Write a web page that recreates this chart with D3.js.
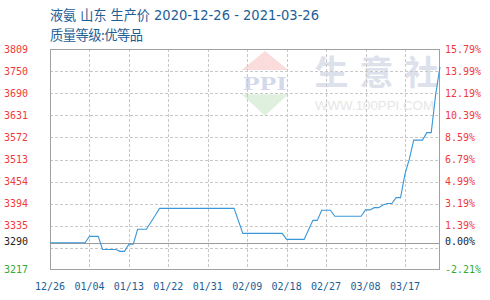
<!DOCTYPE html>
<html><head><meta charset="utf-8">
<script src="https://cdn.jsdelivr.net/npm/d3@7"></script>
<style>body{margin:0;background:#fff}svg{display:block}</style>
</head><body>
<svg id="c" width="490" height="300"></svg>
<script>
// ---- data ----
const dates = ["2020-12-26","2021-01-03","2021-01-04","2021-01-06","2021-01-07","2021-01-10","2021-01-11","2021-01-12","2021-01-13","2021-01-14","2021-01-15","2021-01-17","2021-01-18","2021-01-19","2021-01-20","2021-02-06","2021-02-07","2021-02-08","2021-02-17","2021-02-18","2021-02-22","2021-02-23","2021-02-24","2021-02-25","2021-02-26","2021-02-28","2021-03-01","2021-03-07","2021-03-08","2021-03-09","2021-03-10","2021-03-11","2021-03-12","2021-03-13","2021-03-14","2021-03-15","2021-03-16","2021-03-17","2021-03-18","2021-03-19","2021-03-21","2021-03-22","2021-03-23","2021-03-24","2021-03-25"];
const prices = [3290,3290,3307,3307,3272,3272,3267,3267,3286,3286,3326,3326,3345,3363,3382,3382,3349,3315,3315,3299,3299,3325,3350,3350,3377,3377,3361,3361,3378,3378,3384,3384,3391,3395,3395,3411,3411,3474,3514,3565,3565,3585,3585,3686,3761];
const basePrice = 3290;
const yMin = 3217, yMax = 3809;
const gridValues = [3276.2,3335.4,3394.6,3453.8,3513.0,3572.2,3631.4,3690.6,3749.8,3809];
const leftLabels = ["","3335","3394","3454","3513","3572","3631","3690","3750","3809"];
const rightLabels = ["","1.39%","3.19%","4.99%","6.79%","8.59%","10.39%","12.19%","13.99%","15.79%"];
const baseLabels = ["3290","0.00%"];
const minLabels = ["3217","-2.21%"];
const xTickDates = ["2020-12-26","2021-01-04","2021-01-13","2021-01-22","2021-01-31","2021-02-09","2021-02-18","2021-02-27","2021-03-08","2021-03-17"];
const xTickLabels = ["12/26","01/04","01/13","01/22","01/31","02/09","02/18","02/27","03/08","03/17"];
const titleLine1 = "液氨 山东 生产价 2020-12-26 - 2021-03-26";
const titleLine2 = "质量等级:优等品";
const wmChars = ["生","意","社"];

// ---- layout ----
const L = 50, R = 440, T = 49, B = 270;
const parse = d3.timeParse("%Y-%m-%d");
const svg = d3.select("#c");
const x = d3.scaleTime().domain([parse("2020-12-26"), parse("2021-03-25")]).range([L, R]);
const y = d3.scaleLinear().domain([yMin, yMax]).range([B, T]);
const mono = "'DejaVu Sans Mono', monospace";
const red = "#f03a3a", green = "#33aa33", blue = "#1d5e96";

// titles
svg.append("text").attr("x", 50).attr("y", 20).attr("fill", blue)
  .attr("font-family", "'DejaVu Sans','Noto Sans CJK SC',sans-serif").attr("font-size", 14)
  .attr("textLength", 269).attr("lengthAdjust", "spacingAndGlyphs").text(titleLine1);
svg.append("text").attr("x", 50).attr("y", 39.5).attr("fill", blue)
  .attr("font-family", "'Noto Sans CJK SC',sans-serif").attr("font-size", 13.3)
  .attr("textLength", 93).text(titleLine2);

// watermark
const wm = svg.append("g");
wm.append("path").attr("d", "M265,51L288.3,70L241.7,70Z").attr("fill", "#fadcdc");
wm.append("path").attr("d", "M241.7,94.3L288.3,94.3L265,115.7Z").attr("fill", "#dff0df");
wm.append("text").attr("x", 265).attr("y", 90).attr("text-anchor", "middle")
  .attr("font-family", "'Liberation Serif',serif").attr("font-weight", "bold").attr("font-size", 18)
  .attr("textLength", 44).attr("lengthAdjust", "spacingAndGlyphs").attr("fill", "#d3d9ea").text("PPI");
wm.selectAll("text.wc").data(wmChars).join("text").attr("class", "wc")
  .attr("x", (d, i) => 331.5 + i * 45).attr("y", 85).attr("text-anchor", "middle")
  .attr("font-family", "'Noto Sans CJK SC',sans-serif")
  .attr("font-weight", "bold").attr("font-size", 34)
  .attr("fill", "#dde1eb").text(d => d);
wm.append("text").attr("x", 315).attr("y", 110).attr("font-family", "'Liberation Sans',sans-serif")
  .attr("font-size", 12).attr("textLength", 119).attr("lengthAdjust", "spacingAndGlyphs")
  .attr("fill", "#e6e6e6").text("WWW.100PPI.COM");

// grid
const grid = svg.append("g").attr("stroke", "#c8c8c8").attr("stroke-dasharray", "3,2").attr("shape-rendering", "crispEdges");
grid.selectAll("line.h").data(gridValues.slice(0, -1)).join("line")
  .attr("x1", L).attr("x2", R).attr("y1", d => Math.round(y(d)) + 0.5).attr("y2", d => Math.round(y(d)) + 0.5);
grid.selectAll("line.v").data(xTickDates.slice(1)).join("line")
  .attr("y1", T).attr("y2", B).attr("x1", d => Math.round(x(parse(d))) + 0.5).attr("x2", d => Math.round(x(parse(d))) + 0.5);

// base line
svg.append("line").attr("x1", L).attr("x2", R)
  .attr("y1", Math.round(y(basePrice)) + 0.5).attr("y2", Math.round(y(basePrice)) + 0.5)
  .attr("stroke", "#9a9a9a").attr("shape-rendering", "crispEdges");

// frame
svg.append("rect").attr("x", L + 0.5).attr("y", T + 0.5).attr("width", R - L - 1).attr("height", B - T - 1)
  .attr("fill", "none").attr("stroke", "#a0a0a0").attr("shape-rendering", "crispEdges");

// series line
const line = d3.line().x((d, i) => x(parse(dates[i]))).y(d => y(d));
svg.append("path").datum(prices).attr("d", line).attr("fill", "none")
  .attr("stroke", "#3a98d8").attr("stroke-width", 1.1);

// y labels
const yl = svg.append("g").attr("font-family", mono).attr("font-size", 10);
gridValues.forEach((v, i) => {
  if (!leftLabels[i]) return;
  yl.append("text").attr("x", 28).attr("y", y(v)).attr("dy", "0.35em").attr("text-anchor", "end").attr("fill", red).text(leftLabels[i]);
  yl.append("text").attr("x", 445).attr("y", y(v)).attr("dy", "0.35em").attr("fill", red).text(rightLabels[i]);
});
yl.append("text").attr("x", 28).attr("y", y(basePrice) - 1).attr("dy", "0.35em").attr("text-anchor", "end").attr("fill", "#222").text(baseLabels[0]);
yl.append("text").attr("x", 445).attr("y", y(basePrice) - 1).attr("dy", "0.35em").attr("fill", "#222").text(baseLabels[1]);
yl.append("text").attr("x", 28).attr("y", y(yMin) - 1).attr("dy", "0.35em").attr("text-anchor", "end").attr("fill", green).text(minLabels[0]);
yl.append("text").attr("x", 445).attr("y", y(yMin) - 1).attr("dy", "0.35em").attr("fill", green).text(minLabels[1]);

// x labels
svg.append("g").attr("font-family", mono).attr("font-size", 10).attr("fill", blue)
  .selectAll("text").data(xTickDates).join("text")
  .attr("x", d => x(parse(d))).attr("y", 290).attr("text-anchor", "middle")
  .text((d, i) => xTickLabels[i]);
</script>
</body></html>
